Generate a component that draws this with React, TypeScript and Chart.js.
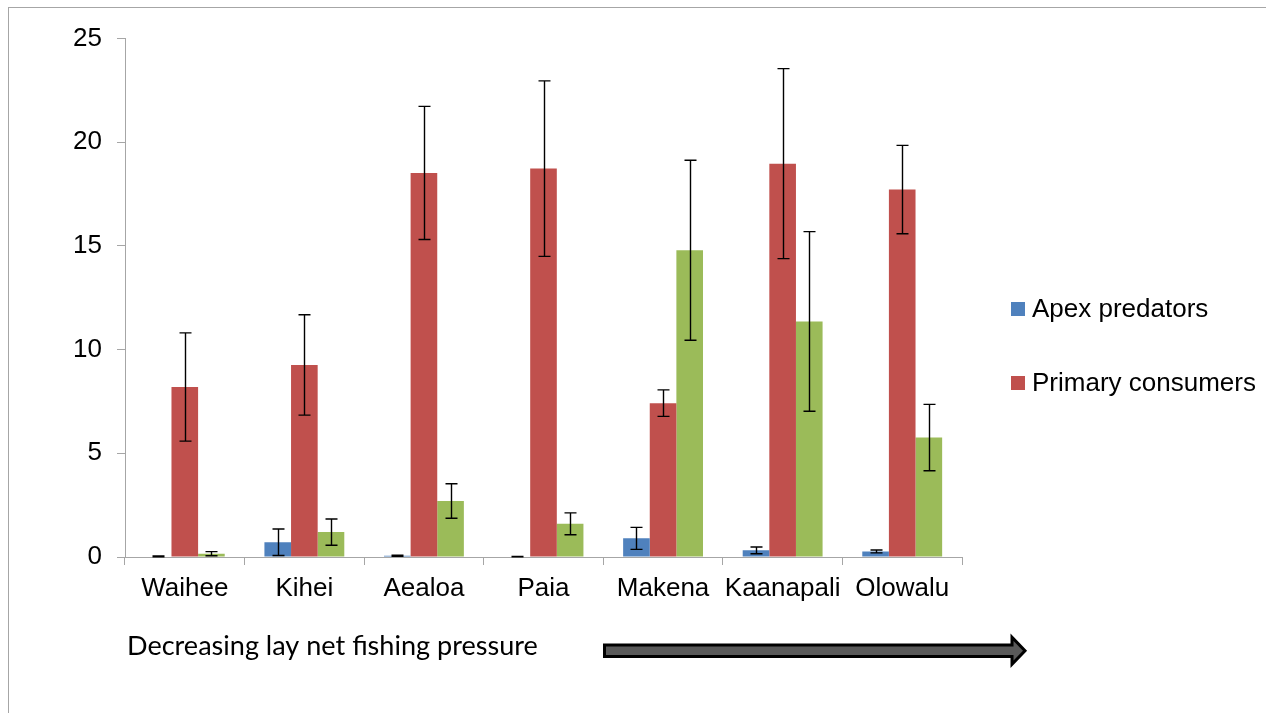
import React, { useEffect, useRef } from "react";
import { Chart, registerables } from "chart.js";

Chart.register(...registerables);

const categories = ["Waihee", "Kihei", "Aealoa", "Paia", "Makena", "Kaanapali", "Olowalu"];
const seriesNames = ["Apex predators", "Primary consumers", "Secondary consumers"];
const apexValues = [0.03, 0.71, 0.06, 0.02, 0.9, 0.32, 0.27];
const apexErrors = [0.02, 0.64, 0.03, 0.01, 0.53, 0.16, 0.07];
const primaryValues = [8.2, 9.26, 18.52, 18.73, 7.42, 18.97, 17.72];
const primaryErrors = [2.61, 2.42, 3.21, 4.23, 0.64, 4.58, 2.13];
const secondaryValues = [0.16, 1.2, 2.7, 1.6, 14.79, 11.36, 5.76];
const secondaryErrors = [0.1, 0.63, 0.83, 0.53, 4.34, 4.33, 1.6];
const yTicks = [0, 5, 10, 15, 20, 25];
const legendShown = [0, 1];
const captionText = "Decreasing lay net fishing pressure";

const colors = ["#4F81BD", "#C0504D", "#9BBB59"];

const errorBarPlugin = {
  id: "errorBars",
  afterDatasetsDraw(chart: any) {
    const ctx = chart.ctx;
    const yScale = chart.scales.y;
    ctx.save();
    ctx.strokeStyle = "#000";
    ctx.lineWidth = 1.4;
    chart.data.datasets.forEach((ds: any, i: number) => {
      const meta = chart.getDatasetMeta(i);
      meta.data.forEach((bar: any, j: number) => {
        const v = ds.data[j];
        const e = ds.errors[j];
        const top = yScale.getPixelForValue(v + e);
        const bot = yScale.getPixelForValue(Math.max(0, v - e));
        const x = Math.round(bar.x) + 0.5;
        ctx.beginPath();
        ctx.moveTo(x, top);
        ctx.lineTo(x, bot);
        ctx.moveTo(x - 6, top);
        ctx.lineTo(x + 6, top);
        ctx.moveTo(x - 6, bot);
        ctx.lineTo(x + 6, bot);
        ctx.stroke();
      });
    });
    ctx.restore();
  },
};

const extrasPlugin = {
  id: "extras",
  afterDraw(chart: any) {
    const ctx = chart.ctx;
    ctx.save();
    // legend
    ctx.font = "26px 'Liberation Sans', Arial, sans-serif";
    ctx.textBaseline = "alphabetic";
    ctx.textAlign = "left";
    const legendY = [294, 368];
    legendShown.forEach((idx, k) => {
      const ds = chart.data.datasets[idx];
      ctx.fillStyle = ds.backgroundColor;
      ctx.fillRect(1002, legendY[k], 14, 14);
      ctx.fillStyle = "#000";
      ctx.fillText(ds.label, 1023, legendY[k] + 14.7);
    });
    // caption
    let size = 26;
    ctx.font = `${size}px Lato, sans-serif`;
    const w = ctx.measureText(captionText).width;
    size = (size * 411) / w;
    ctx.font = `${size}px Lato, sans-serif`;
    ctx.fillStyle = "#000";
    ctx.fillText(captionText, 118, 647);
    // arrow
    const cy = 642.7;
    ctx.beginPath();
    ctx.moveTo(595.5, cy - 5.7);
    ctx.lineTo(1003, cy - 5.7);
    ctx.lineTo(1003, cy - 13.5);
    ctx.lineTo(1016, cy);
    ctx.lineTo(1003, cy + 13.5);
    ctx.lineTo(1003, cy + 5.7);
    ctx.lineTo(595.5, cy + 5.7);
    ctx.closePath();
    ctx.fillStyle = "#595959";
    ctx.fill();
    ctx.lineWidth = 3;
    ctx.strokeStyle = "#000";
    ctx.stroke();
    ctx.restore();
  },
};

export default function App() {
  const ref = useRef<HTMLCanvasElement>(null);
  useEffect(() => {
    if (!ref.current) return;
    const valueSets = [apexValues, primaryValues, secondaryValues];
    const errSets = [apexErrors, primaryErrors, secondaryErrors];
    const chart = new Chart(ref.current, {
      type: "bar",
      data: {
        labels: categories,
        datasets: valueSets.map((vals, i) => ({
          label: seriesNames[i],
          data: vals,
          errors: errSets[i],
          backgroundColor: colors[i],
          borderWidth: 0,
          categoryPercentage: 0.668,
          barPercentage: 1,
        })) as any,
      },
      options: {
        responsive: false,
        animation: false,
        devicePixelRatio: 1,
        layout: { padding: { top: 29, right: 304, bottom: 96, left: 0 } },
        plugins: { legend: { display: false }, tooltip: { enabled: false } },
        scales: {
          x: {
            afterFit: (s: any) => { s.height = 60; },
            grid: { display: true, drawOnChartArea: false, offset: true, tickLength: 8, color: "#a6a6a6" },
            border: { color: "#a6a6a6" },
            ticks: { font: { family: "'Liberation Sans', Arial, sans-serif", size: 26 }, color: "#000", padding: 8, maxRotation: 0, autoSkip: false },
          },
          y: {
            min: 0,
            max: 25,
            afterFit: (s: any) => { s.width = 116; },
            afterBuildTicks: (s: any) => { s.ticks = yTicks.map((v) => ({ value: v })); },
            grid: { display: true, drawOnChartArea: false, tickLength: 8, color: "#a6a6a6" },
            border: { color: "#a6a6a6" },
            ticks: { font: { family: "'Liberation Sans', Arial, sans-serif", size: 26 }, color: "#000", padding: 15 },
          },
        },
      },
      plugins: [errorBarPlugin, extrasPlugin],
    });
    return () => chart.destroy();
  }, []);
  return (
    <div
      style={{
        position: "fixed",
        left: 8,
        top: 7,
        right: 0,
        bottom: 0,
        borderTop: "1px solid #a6a6a6",
        borderLeft: "1px solid #a6a6a6",
        background: "#fff",
      }}
    >
      <canvas ref={ref} width={1257} height={705} style={{ display: "block" }} />
    </div>
  );
}
